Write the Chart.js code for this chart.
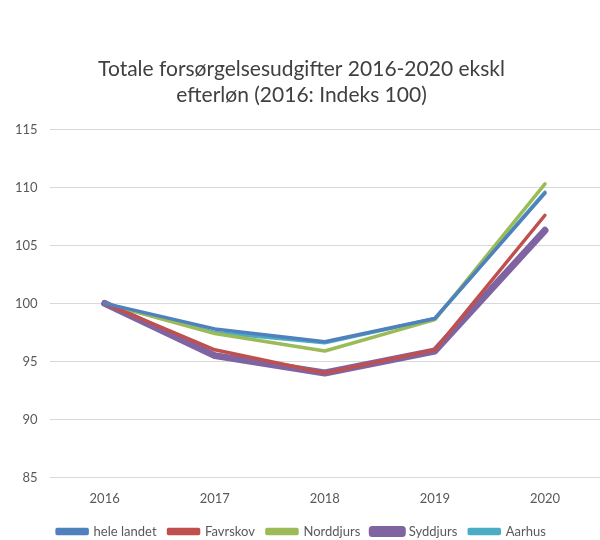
<!DOCTYPE html>
<html>
<head>
<meta charset="utf-8">
<script src="https://cdn.jsdelivr.net/npm/chart.js@4/dist/chart.umd.min.js"></script>
<style>
  html, body { margin: 0; padding: 0; background: #fff; overflow: hidden; }
  #wrap { width: 600px; height: 548px; }
</style>
</head>
<body>
<div id="wrap"><canvas id="chart"></canvas></div>
<script>
// data
const years = ['2016', '2017', '2018', '2019', '2020'];
const heleLandet = [100, 97.8, 96.7, 98.7, 109.5];
const favrskov = [100, 96.0, 94.0, 96.0, 107.6];
const norddjurs = [100, 97.4, 95.9, 98.6, 110.3];
const syddjurs = [100, 95.5, 94.0, 95.9, 106.3];
const aarhus = [100, 97.5, 96.6, 98.7, 109.6];

function line(label, data, color, width) {
  return {
    label: label,
    data: data,
    borderColor: color,
    backgroundColor: color,
    borderWidth: width,
    pointRadius: 0,
    borderCapStyle: 'round',
    borderJoinStyle: 'round',
    tension: 0
  };
}

const ctx = document.getElementById('chart').getContext('2d');
new Chart(ctx, {
  type: 'line',
  data: {
    labels: years,
    datasets: [
      line('hele landet', heleLandet, '#4F81BD', 3.5),
      line('Favrskov', favrskov, '#C0504D', 3.5),
      line('Norddjurs', norddjurs, '#9BBB59', 3.5),
      line('Syddjurs', syddjurs, '#8064A2', 7),
      line('Aarhus', aarhus, '#4BACC6', 3.5)
    ]
  },
  options: {
    responsive: true,
    maintainAspectRatio: false,
    animation: false,
    layout: { padding: { top: 57, left: 3, right: 0, bottom: 0 } },
    plugins: {
      title: {
        display: true,
        text: ['Totale forsørgelsesudgifter 2016-2020 ekskl', 'efterløn (2016: Indeks 100)'],
        color: '#404040',
        font: { family: 'Lato', size: 21, weight: 'normal' },
        padding: { top: 0, bottom: 22 }
      },
      legend: {
        position: 'bottom',
        labels: {
          color: '#595959',
          font: { family: 'Lato', size: 13 },
          boxWidth: 30,
          boxHeight: 4,
          padding: 12
        }
      },
      tooltip: { enabled: false }
    },
    scales: {
      x: {
        offset: true,
        grid: { display: false },
        border: { display: false },
        ticks: { color: '#595959', font: { family: 'Lato', size: 13 }, padding: 6 }
      },
      y: {
        min: 85,
        max: 115,
        ticks: { stepSize: 5, color: '#595959', font: { family: 'Lato', size: 13 }, padding: 12 },
        grid: { color: '#d9d9d9', lineWidth: 1, drawTicks: false },
        border: { display: false }
      }
    }
  }
});
</script>
</body>
</html>
